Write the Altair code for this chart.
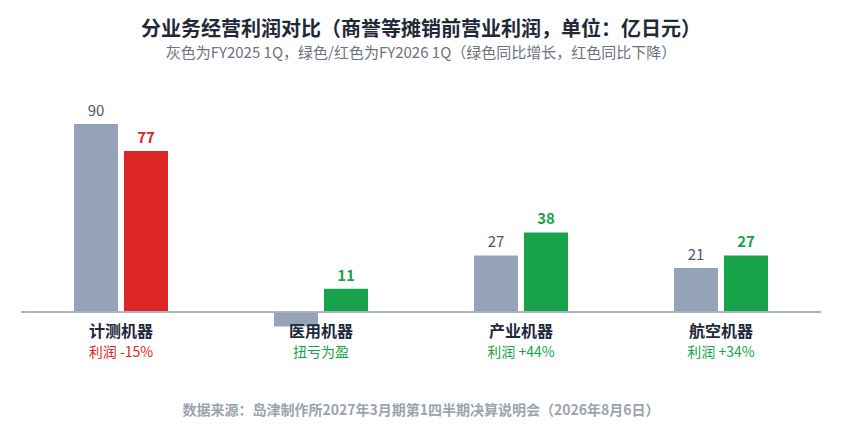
import altair as alt
import pandas as pd

categories = ["计测机器", "医用机器", "产业机器", "航空机器"]
fy2025 = [90, -7, 27, 21]
fy2026 = [77, 11, 38, 27]
notes = ["利润 -15%", "扭亏为盈", "利润 +44%", "利润 +34%"]
periods = ["FY2025 1Q", "FY2026 1Q"]

FONT = "Noto Sans CJK SC"
GRAY = "#94a3b8"
GREEN = "#16a34a"
RED = "#dc2626"

rows = []
for c, a, b in zip(categories, fy2025, fy2026):
    rows.append({"key": c + "|" + periods[0], "value": a, "status": "base"})
    rows.append({"key": c + "|" + periods[1], "value": b, "status": "up" if b >= a else "down"})
df = pd.DataFrame(rows)

x_domain = []
for c in categories:
    x_domain += [c + "|L", c + "|" + periods[0], c + "|" + periods[1], c + "|R"]

lab_rows = []
for c, a, b, n in zip(categories, fy2025, fy2026, notes):
    lab_rows.append({"key": c + "|" + periods[0], "cat": c, "note": n,
                     "status": "up" if b >= a else "down"})
lab = pd.DataFrame(lab_rows)

foot = pd.DataFrame({"t": ["数据来源：岛津制作所2027年3月期第1四半期决算说明会（2026年8月6日）"],
                     "key": [categories[1] + "|R"]})

bar_color = (alt.when("datum.status == 'base'").then(alt.value(GRAY))
             .when("datum.status == 'up'").then(alt.value(GREEN))
             .otherwise(alt.value(RED)))
txt_color = alt.when("datum.status == 'up'").then(alt.value(GREEN)).otherwise(alt.value(RED))

ys = alt.Scale(domain=[-48, 100], nice=False, zero=False)
xs = alt.Scale(domain=x_domain, paddingInner=0.12, paddingOuter=0.06)
x = alt.X("key:N", axis=None, scale=xs)
y = alt.Y("value:Q", axis=None, scale=ys)

base = alt.Chart(df)

bars = base.mark_bar().encode(x=x, y=y, y2=alt.Y2Datum(0), color=bar_color)

vals_base = base.transform_filter("datum.status == 'base' && datum.value > 0").mark_text(
    baseline="alphabetic", dy=-8, fontSize=15, font=FONT, color="#475569"
).encode(x=x, y=y, text="value:Q")

vals_new = base.transform_filter("datum.status != 'base'").mark_text(
    baseline="alphabetic", dy=-8, fontSize=15, fontWeight="bold", font=FONT
).encode(x=x, y=y, text="value:Q", color=txt_color)

rule = base.mark_rule(color="#aab2bf", strokeWidth=1.5).encode(
    y=alt.YDatum(0, axis=None, scale=ys))

lc = alt.Chart(lab)
cat_text = lc.mark_text(fontSize=16, fontWeight="bold", font=FONT, color="#1e293b",
                        baseline="middle", dx=25).encode(
    x=x, y=alt.YDatum(-9.6, axis=None, scale=ys), text="cat:N")
note_text = lc.mark_text(fontSize=14, font=FONT, baseline="middle", dx=25).encode(
    x=x, y=alt.YDatum(-19.7, axis=None, scale=ys), text="note:N", color=txt_color)

foot_text = alt.Chart(foot).mark_text(fontSize=14, fontWeight="bold", font=FONT, color="#9ca3af",
                                       baseline="middle", dx=25).encode(
    x=x, y=alt.YDatum(-47.3, axis=None, scale=ys), text="t:N")

chart = alt.layer(bars, rule, vals_base, vals_new, cat_text, note_text, foot_text).properties(
    width=800, height=309,
    padding={"left": 12, "top": 12, "right": 12, "bottom": 0},
    title=alt.TitleParams(
        "分业务经营利润对比（商誉等摊销前营业利润，单位：亿日元）",
        subtitle="灰色为FY2025 1Q，绿色/红色为FY2026 1Q（绿色同比增长，红色同比下降）",
        anchor="middle", fontSize=20, fontWeight="bold", color="#1f2937", font=FONT,
        subtitleFontSize=15, subtitleColor="#6b7280", subtitleFont=FONT, subtitlePadding=6,
        offset=42,
    ),
).configure_view(stroke=None).configure_axis(disable=True)

chart.save("out.html", embed_options={"renderer": "svg", "actions": False})
